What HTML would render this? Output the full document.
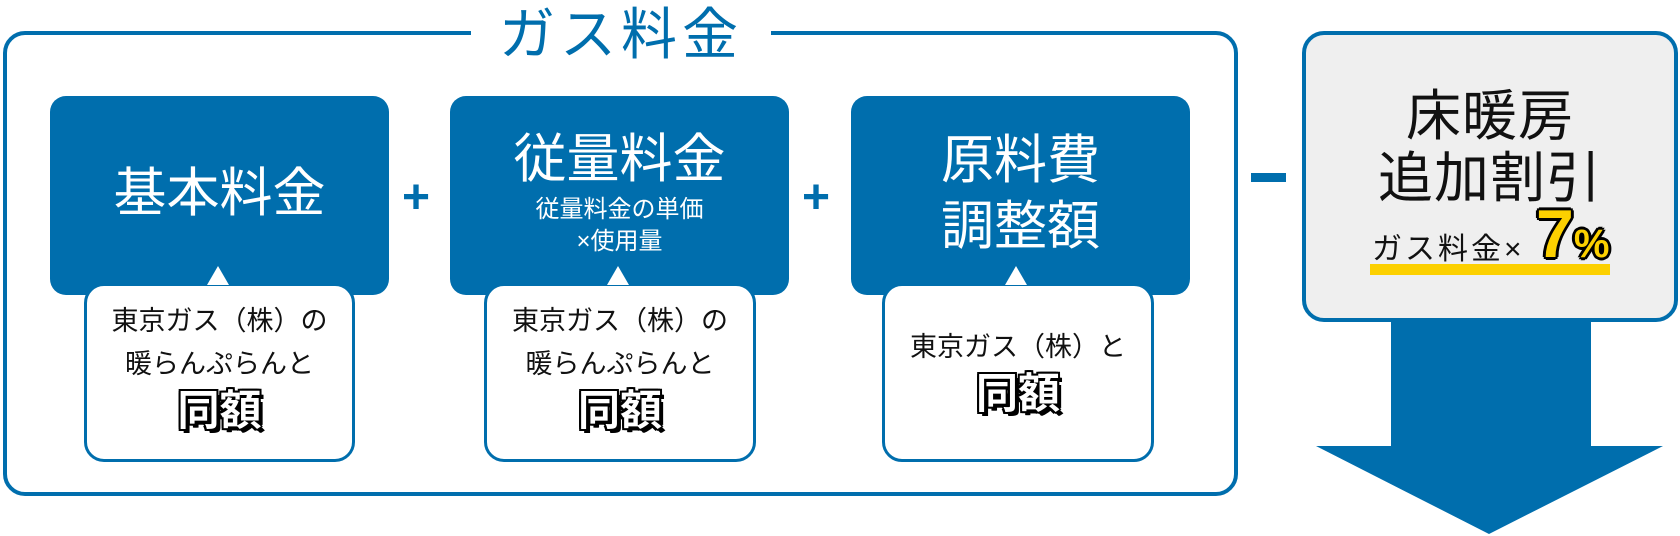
<!DOCTYPE html>
<html><head><meta charset="utf-8"><style>
*{margin:0;padding:0;box-sizing:border-box}
body{width:1680px;height:536px;background:#fff;position:relative;overflow:hidden;font-family:"Liberation Sans","Noto Sans CJK JP",sans-serif}
.a{position:absolute}
.frame{left:3px;top:31px;width:1235px;height:465px;border:4px solid #006ead;border-radius:22px}
.title{left:471px;top:0;width:300px;height:70px;background:#fff;color:#006ead;font-size:56px;text-align:center;line-height:70px;letter-spacing:5px}
.bb{background:#006ead;border-radius:16px;color:#fff;text-align:center}
.wb{background:#fff;border:3px solid #006ead;border-radius:20px;text-align:center;color:#111}
.tri{width:0;height:0;border-left:11px solid transparent;border-right:11px solid transparent;border-bottom:19px solid #fff}
.plus{color:#006ead;font-size:48px;font-weight:bold;line-height:48px}
.t{font-size:27px;line-height:43px}
.same{font-size:42px;font-weight:bold;color:#fff;line-height:50px;text-shadow:-2px -2px 0 #000,2px -2px 0 #000,-2px 2px 0 #000,2px 2px 0 #000,0 -2px 0 #000,0 2px 0 #000,-2px 0 0 #000,2px 0 0 #000,3px 4px 0 #000,4px 4px 0 #000}
</style></head><body>
<div class="a frame"></div>
<div class="a title">ガス料金</div>

<div class="a bb" style="left:50px;top:96px;width:339px;height:199px"><div style="font-size:53px;line-height:60px;position:absolute;top:68px;width:100%">基本料金</div></div>
<div class="a bb" style="left:450px;top:96px;width:339px;height:199px">
<div style="font-size:53px;line-height:60px;margin-top:34px">従量料金</div>
<div style="font-size:24px;line-height:32px;margin-top:4px">従量料金の単価</div>
<div style="font-size:24px;line-height:32px">×使用量</div></div>
<div class="a bb" style="left:851px;top:96px;width:339px;height:199px">
<div style="font-size:53px;line-height:66px;margin-top:32px">原料費<br>調整額</div></div>

<div class="a plus" style="left:402px;top:174px">+</div>
<div class="a plus" style="left:802px;top:174px">+</div>
<div class="a" style="left:1251px;top:173px;width:35px;height:9px;background:#006ead"></div>

<div class="a wb" style="left:84px;top:283px;width:271px;height:179px"><div class="t" style="margin-top:14px">東京ガス（株）の<br>暖らんぷらんと</div><div class="same">同額</div></div>
<div class="a tri" style="left:207px;top:266px"></div>
<div class="a wb" style="left:484px;top:283px;width:272px;height:179px"><div class="t" style="margin-top:14px">東京ガス（株）の<br>暖らんぷらんと</div><div class="same">同額</div></div>
<div class="a tri" style="left:607px;top:266px"></div>
<div class="a wb" style="left:882px;top:283px;width:272px;height:179px"><div class="t" style="margin-top:40px">東京ガス（株）と</div><div class="same">同額</div></div>
<div class="a tri" style="left:1005px;top:266px"></div>

<div class="a" style="left:1391px;top:315px;width:200px;height:132px;background:#006ead"></div>
<svg class="a" style="left:0;top:0" width="1680" height="536"><polygon points="1316,446 1663,446 1489,534" fill="#006ead"/></svg>
<div class="a" style="left:1302px;top:31px;width:376px;height:291px;background:#efefef;border:4px solid #006ead;border-radius:22px;text-align:center;color:#111">
<div style="font-size:55px;line-height:62px;margin-top:50px;letter-spacing:1px">床暖房<br>追加割引</div></div>
<div class="a" style="left:1370px;top:264px;width:240px;height:11px;background:#fcd000"></div>
<div class="a" style="left:1372px;top:233px;font-size:30px;line-height:34px;color:#111;letter-spacing:3px">ガス料金×</div>
<div class="a" style="left:1536px;top:198px;font-size:68px;font-weight:bold;line-height:72px;color:#fcd000;text-shadow:-2px -2px 0 #000,2px -2px 0 #000,-2px 2px 0 #000,2px 2px 0 #000,0 -3px 0 #000,0 3px 0 #000,-3px 0 0 #000,3px 0 0 #000">7<span style="font-size:40px">%</span></div>
</body></html>
